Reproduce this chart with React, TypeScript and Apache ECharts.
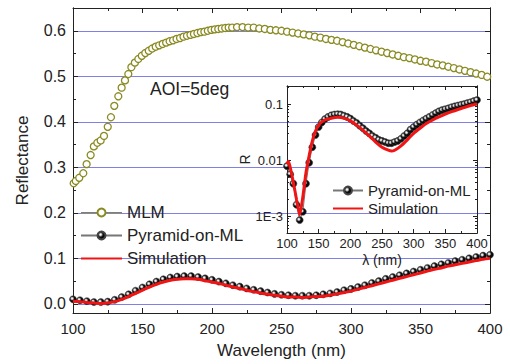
import React, { useEffect, useRef } from 'react';
import * as echarts from 'echarts';

// ---------- DATA ----------
// MLM (open olive circles), wavelength (nm) and reflectance
const mlmX = [100.5, 102, 104.5, 107.4, 109.8, 112.7, 115, 117.5, 119.9, 122.3, 125, 127.3, 129.7, 132.6, 135, 137.4, 139.8,
  142, 144.5, 147, 149.5, 152, 154.5, 157, 159.5, 162, 164.5, 167, 169.5, 172, 174.5, 177, 179.5, 182, 184.5, 187, 189.5,
  192, 194.5, 197, 199.5, 202, 204.5, 207, 209.5, 212, 214.5,
  218, 222, 226, 230, 234, 238, 242, 246, 250, 254, 258, 262, 266, 270, 274, 278, 282, 286, 290, 294, 298, 302, 306, 310,
  314, 318, 322, 326, 330, 334, 338, 342, 346, 350, 354, 358, 362, 366, 370, 374, 378, 382, 386, 390, 394, 398];
const mlmY = [0.265, 0.270, 0.277, 0.287, 0.307, 0.327, 0.346, 0.354, 0.359, 0.369, 0.389, 0.410, 0.435, 0.456, 0.475, 0.491, 0.505,
  0.520, 0.530, 0.538, 0.545, 0.551, 0.556, 0.561, 0.565, 0.568, 0.571, 0.574, 0.577, 0.579, 0.582, 0.584, 0.587, 0.589, 0.591, 0.593, 0.595,
  0.597, 0.598, 0.600, 0.602, 0.603, 0.604, 0.605, 0.606, 0.607, 0.607,
  0.608, 0.608, 0.607, 0.607, 0.605, 0.604, 0.602, 0.601, 0.600, 0.598, 0.596, 0.594, 0.592, 0.590, 0.587, 0.585, 0.582, 0.580, 0.578, 0.575, 0.572, 0.569, 0.566, 0.563,
  0.560, 0.557, 0.554, 0.551, 0.548, 0.545, 0.542, 0.540, 0.537, 0.534, 0.532, 0.529, 0.526, 0.524, 0.521, 0.518, 0.515, 0.512, 0.509, 0.506, 0.503, 0.499];

// common wavelength grid (5 nm)
const wl = [100, 105, 110, 115, 120, 125, 130, 135, 140, 145, 150, 155, 160, 165, 170, 175, 180, 185, 190, 195, 200,
  205, 210, 215, 220, 225, 230, 235, 240, 245, 250, 255, 260, 265, 270, 275, 280, 285, 290, 295, 300,
  305, 310, 315, 320, 325, 330, 335, 340, 345, 350, 355, 360, 365, 370, 375, 380, 385, 390, 395, 400];

// main panel: Pyramid-on-ML (measured) and Simulation
const pyrMain = [0.010, 0.008, 0.006, 0.004, 0.004, 0.005, 0.009, 0.015, 0.021, 0.029, 0.036, 0.043, 0.049, 0.054, 0.058, 0.060, 0.061, 0.061, 0.059, 0.056, 0.053,
  0.049, 0.045, 0.041, 0.038, 0.034, 0.031, 0.028, 0.025, 0.022, 0.020, 0.019, 0.018, 0.018, 0.018, 0.019, 0.021, 0.023, 0.026, 0.030, 0.033,
  0.037, 0.041, 0.046, 0.050, 0.055, 0.059, 0.063, 0.067, 0.071, 0.075, 0.079, 0.083, 0.087, 0.090, 0.094, 0.097, 0.100, 0.103, 0.106, 0.108];
const simMain = [0.006, 0.005, 0.003, 0.002, 0.001, 0.002, 0.005, 0.010, 0.016, 0.023, 0.030, 0.037, 0.043, 0.048, 0.052, 0.054, 0.055, 0.055, 0.054, 0.051, 0.048,
  0.045, 0.041, 0.037, 0.034, 0.030, 0.027, 0.024, 0.021, 0.019, 0.017, 0.015, 0.015, 0.014, 0.015, 0.016, 0.017, 0.019, 0.022, 0.025, 0.028,
  0.032, 0.036, 0.040, 0.044, 0.048, 0.052, 0.056, 0.060, 0.064, 0.068, 0.072, 0.076, 0.079, 0.083, 0.086, 0.089, 0.092, 0.095, 0.098, 0.100];

// inset (log scale)
const pyrInset = [0.0078, 0.0056, 0.0038, 0.0016, 0.00085, 0.0012, 0.0038, 0.0090, 0.017, 0.028, 0.039, 0.047, 0.054, 0.059, 0.063, 0.065, 0.066, 0.065, 0.062, 0.059, 0.055,
  0.050, 0.046, 0.041, 0.037, 0.033, 0.030, 0.027, 0.025, 0.023, 0.022, 0.021, 0.020, 0.020, 0.021, 0.022, 0.024, 0.027, 0.030, 0.035, 0.039,
  0.043, 0.047, 0.051, 0.055, 0.059, 0.064, 0.069, 0.074, 0.078, 0.081, 0.084, 0.088, 0.091, 0.094, 0.097, 0.100, 0.104, 0.108, 0.113, 0.118];
const simInsetX = [100, 102, 105, 110, 115, 120, 125, 130, 135, 140, 145, 150, 155, 160, 170, 180, 190, 200, 210, 220, 230, 240, 250, 260, 265, 270,
  280, 290, 300, 310, 320, 330, 340, 350, 360, 370, 380, 390, 400];
const simInsetY = [0.0085, 0.0095, 0.0075, 0.0040, 0.0020, 0.00105, 0.0022, 0.0060, 0.012, 0.022, 0.033, 0.042, 0.048, 0.052, 0.056, 0.058, 0.056, 0.050, 0.042, 0.034, 0.027, 0.021, 0.017, 0.015, 0.0145, 0.015,
  0.018, 0.023, 0.030, 0.037, 0.045, 0.052, 0.059, 0.066, 0.073, 0.080, 0.087, 0.094, 0.100];

// tick values
const mainYTicks = [0, 0.1, 0.2, 0.3, 0.4, 0.5, 0.6];
const mainYMinor = [0.05, 0.15, 0.25, 0.35, 0.45, 0.55];
const insetYTicks = [0.001, 0.01, 0.1];
const insetYMinor = [0.0006, 0.0007, 0.0008, 0.0009, 0.002, 0.003, 0.004, 0.005, 0.006, 0.007, 0.008, 0.009,
  0.02, 0.03, 0.04, 0.05, 0.06, 0.07, 0.08, 0.09, 0.2];

const FONT = "'Liberation Sans', Arial, Helvetica, sans-serif";
const INK = '#222';
const OLIVE = '#8a8a22';
const RED = '#f01414';
const GRIDBLUE = '#7f7fe8';
const CLEAR = 'rgba(0,0,0,0)';

const ballFill = {
  type: 'radial', x: 0.38, y: 0.38, r: 0.62,
  colorStops: [
    { offset: 0, color: '#ffffff' },
    { offset: 0.18, color: '#dddddd' },
    { offset: 0.5, color: '#111111' },
    { offset: 1, color: '#000000' },
  ],
};

const pairs = (xs: number[], ys: number[]) => xs.map((x, i) => [x, ys[i]]);

function xAxisCfg(grid: number, pos: 'top' | 'bottom', labels: boolean, extra: any = {}) {
  return {
    type: 'value', gridIndex: grid, position: pos, min: 100, max: 400, interval: 50,
    axisLine: { show: true, onZero: false, lineStyle: { color: INK, width: 1 } },
    axisTick: { show: true, inside: true, length: grid === 0 ? 5 : 4, lineStyle: { color: INK } },
    minorTick: { show: true, splitNumber: 2, length: grid === 0 ? 3 : 2, lineStyle: { color: INK } },
    splitLine: { show: false },
    axisLabel: { show: labels, color: INK, fontFamily: FONT, hideOverlap: false, interval: 0 },
    ...extra,
  };
}

function yAxisCfg(grid: number, pos: 'left' | 'right', isLog: boolean, ticks: number[], len: number, labels: boolean, extra: any = {}) {
  return {
    type: isLog ? 'log' : 'value', gridIndex: grid, position: pos,
    min: isLog ? 0.0005 : -0.02, max: isLog ? 0.21 : 0.65,
    logBase: 10,
    axisLine: { show: true, onZero: false, lineStyle: { color: INK, width: 1 } },
    axisTick: { show: true, inside: true, length: len, customValues: ticks, lineStyle: { color: INK } },
    minorTick: { show: false },
    splitLine: { show: false },
    axisLabel: { show: labels, customValues: ticks, color: INK, fontFamily: FONT },
    ...extra,
  };
}

export default function App() {
  const ref = useRef<HTMLDivElement>(null);
  useEffect(() => {
    if (!ref.current) return;
    const chart = echarts.init(ref.current, undefined, { renderer: 'svg' });
    const option: any = {
      animation: false,
      backgroundColor: '#ffffff',
      textStyle: { fontFamily: FONT },
      grid: [
        { left: 73, top: 8, width: 417, height: 307 },
        { left: 287, top: 86, width: 190, height: 147 },
      ],
      xAxis: [
        xAxisCfg(0, 'bottom', true, {
          axisLabel: { show: true, color: INK, fontFamily: FONT, fontSize: 15, margin: 8, hideOverlap: false },
          name: 'Wavelength (nm)', nameLocation: 'middle', nameGap: 29,
          nameTextStyle: { fontSize: 17, color: INK, fontFamily: FONT },
        }),
        xAxisCfg(0, 'top', false),
        xAxisCfg(1, 'bottom', true, {
          axisLabel: { show: true, color: INK, fontFamily: FONT, fontSize: 13, margin: 4, hideOverlap: false, interval: 0 },
          name: 'λ (nm)', nameLocation: 'middle', nameGap: 20,
          nameTextStyle: { fontSize: 14, color: INK, fontFamily: FONT },
        }),
        xAxisCfg(1, 'top', false),
      ],
      yAxis: [
        yAxisCfg(0, 'left', false, mainYTicks, 5, true, {
          axisLabel: { show: true, customValues: mainYTicks, color: INK, fontFamily: FONT, fontSize: 16, margin: 7,
            formatter: (v: number) => v.toFixed(1) },
          splitLine: { show: true, lineStyle: { color: GRIDBLUE, width: 1 } },
          name: 'Reflectance', nameLocation: 'middle', nameGap: 42,
          nameTextStyle: { fontSize: 17, color: INK, fontFamily: FONT },
        }),
        yAxisCfg(0, 'left', false, mainYMinor, 3, false),
        yAxisCfg(0, 'right', false, mainYTicks, 5, false),
        yAxisCfg(0, 'right', false, mainYMinor, 3, false),
        yAxisCfg(1, 'left', true, insetYTicks, 4, true, {
          axisLabel: { show: true, customValues: insetYTicks, color: INK, fontFamily: FONT, fontSize: 13, margin: 4,
            formatter: (v: number) => (v < 0.005 ? '1E-3' : v < 0.05 ? '0.01' : '0.1') },
          name: 'R', nameLocation: 'middle', nameGap: 32,
          nameTextStyle: { fontSize: 14, color: INK, fontFamily: FONT },
        }),
        yAxisCfg(1, 'left', true, insetYMinor, 2, false),
        yAxisCfg(1, 'right', true, insetYTicks, 4, false),
        yAxisCfg(1, 'right', true, insetYMinor, 2, false),
      ],
      legend: [
        {
          left: 80, top: 204, orient: 'vertical', padding: 0, itemGap: 6, itemWidth: 41, itemHeight: 10,
          selectedMode: false,
          textStyle: { fontSize: 17, color: INK, fontFamily: FONT },
          data: [
            { name: 'MLM', lineStyle: { color: OLIVE, width: 1, opacity: 1, type: 'solid' } },
            { name: 'Pyramid-on-ML' },
            { name: 'Simulation', itemStyle: { color: CLEAR, borderColor: CLEAR, borderWidth: 0 } },
          ],
        },
        {
          left: 332, top: 183, orient: 'vertical', padding: 0, itemGap: 3, itemWidth: 30, itemHeight: 10,
          selectedMode: false,
          textStyle: { fontSize: 15, color: INK, fontFamily: FONT },
          data: [
            { name: 'Pyramid-on-ML' },
            { name: 'Simulation', itemStyle: { color: CLEAR, borderColor: CLEAR, borderWidth: 0 } },
          ],
        },
      ],
      graphic: [
        {
          type: 'text', left: 150, top: 80,
          style: { text: 'AOI=5deg', fontSize: 17.5, fontFamily: FONT, fill: INK },
        },
      ],
      series: [
        {
          name: 'MLM', type: 'line', xAxisIndex: 0, yAxisIndex: 0,
          data: pairs(mlmX, mlmY),
          symbol: 'circle', symbolSize: 7, showSymbol: true, showAllSymbol: true,
          lineStyle: { opacity: 0, width: 0 },
          itemStyle: { color: '#ffffff', borderColor: OLIVE, borderWidth: 1.3 },
          z: 3,
        },
        {
          name: 'Pyramid-on-ML', type: 'line', xAxisIndex: 0, yAxisIndex: 0,
          data: pairs(wl, pyrMain),
          symbol: 'circle', symbolSize: 7, showSymbol: true, showAllSymbol: true,
          lineStyle: { color: '#777', width: 1 },
          itemStyle: { color: ballFill, borderColor: '#444', borderWidth: 0.6 },
          z: 3,
        },
        {
          name: 'Simulation', type: 'line', xAxisIndex: 0, yAxisIndex: 0,
          data: pairs(wl, simMain),
          showSymbol: false, symbol: 'none', smooth: 0.3,
          lineStyle: { color: RED, width: 3 },
          itemStyle: { color: RED },
          z: 4,
        },
        {
          name: 'Pyramid-on-ML', type: 'line', xAxisIndex: 2, yAxisIndex: 4,
          data: pairs(wl, pyrInset),
          symbol: 'circle', symbolSize: 7, showSymbol: true, showAllSymbol: true,
          lineStyle: { color: '#777', width: 1 },
          itemStyle: { color: ballFill, borderColor: '#444', borderWidth: 0.6 },
          z: 5,
        },
        {
          name: 'Simulation', type: 'line', xAxisIndex: 2, yAxisIndex: 4,
          data: pairs(simInsetX, simInsetY),
          showSymbol: false, symbol: 'none', smooth: 0.2,
          lineStyle: { color: RED, width: 3 },
          itemStyle: { color: RED },
          z: 6,
        },
      ],
    };
    chart.setOption(option);
    return () => chart.dispose();
  }, []);
  return <div ref={ref} style={{ position: 'absolute', left: 0, top: 0, width: 510, height: 364 }} />;
}
